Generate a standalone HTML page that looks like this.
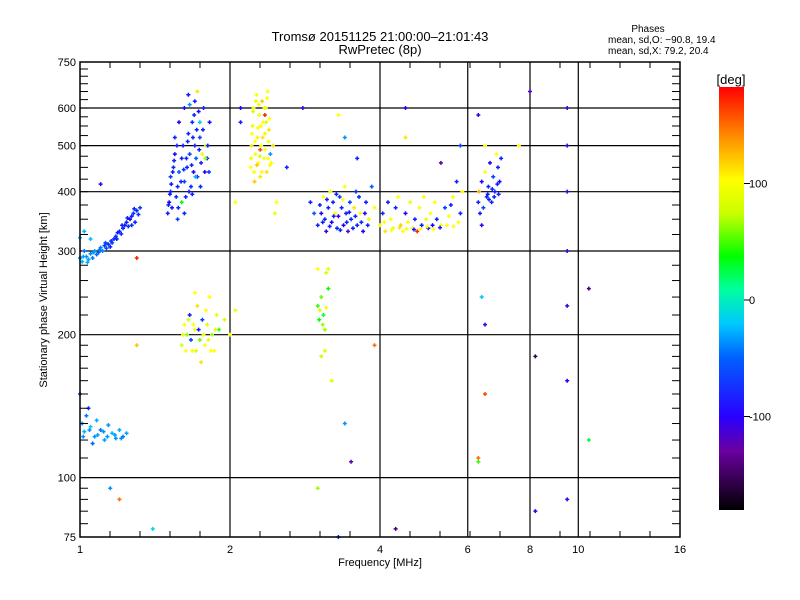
<!DOCTYPE html>
<html><head><meta charset="utf-8"><style>
body{margin:0;background:#fff;}
svg{display:block;font-family:"Liberation Sans",sans-serif;}
</style></head><body>
<svg id="chart" width="800" height="600" viewBox="0 0 800 600" xmlns="http://www.w3.org/2000/svg">
<defs>
<linearGradient id="cbar" x1="0" y1="1" x2="0" y2="0">
<stop offset="0" stop-color="#000000"/>
<stop offset="0.14" stop-color="#6a00a0"/>
<stop offset="0.22" stop-color="#2a00ff"/>
<stop offset="0.36" stop-color="#0060ff"/>
<stop offset="0.44" stop-color="#00c8ff"/>
<stop offset="0.52" stop-color="#00ffa0"/>
<stop offset="0.60" stop-color="#00ff00"/>
<stop offset="0.70" stop-color="#c8ff00"/>
<stop offset="0.78" stop-color="#ffff00"/>
<stop offset="0.88" stop-color="#ff9000"/>
<stop offset="1" stop-color="#ff0000"/>
</linearGradient>
</defs>
<g id="grid"></g>
<g id="marks"></g>
<rect x="80" y="62" width="600" height="475" fill="none" stroke="#000" stroke-width="1.5"/>
<g id="ticks"></g>
<text x="380" y="41" font-size="13" text-anchor="middle">Tromsø 20151125 21:00:00–21:01:43</text>
<text x="380" y="54" font-size="13" text-anchor="middle">RwPretec (8p)</text>
<text x="648" y="32" font-size="10" text-anchor="middle">Phases</text>
<text x="608" y="43" font-size="10">mean, sd,O: −90.8, 19.4</text>
<text x="608" y="54" font-size="10">mean, sd,X:  79.2, 20.4</text>
<text x="380" y="566" font-size="11" text-anchor="middle">Frequency [MHz]</text>
<text transform="translate(47,300) rotate(-90)" font-size="11" text-anchor="middle">Stationary phase Virtual Height [km]</text>
<rect x="719" y="87" width="25" height="423" fill="url(#cbar)"/>
<text x="731" y="84" font-size="13" text-anchor="middle">[deg]</text>
<g id="cbticks"></g>
</svg>
<script>
const xTicks=[1,2,4,6,8,10,16];
const yTicks=[75,100,200,300,400,500,600,750];
const yGrid=[100,200,300,400,500,600];
const xGrid=[2,4,6,8,10];
const cbTicks=[100,0,-100];
const clusterLowF=[[1.00,290,-60],[1.01,285,-50],[1.02,300,-70],[1.03,292,-60],[1.04,288,-55],[1.05,296,-65],[1.06,290,-70],[1.07,300,-60],[1.08,295,-75],[1.09,298,-80],[1.10,305,-70],[1.11,300,-65],[1.12,308,-90],[1.13,304,-85],[1.14,310,-95],[1.15,306,-100],[1.16,312,-90],[1.17,318,-100],[1.18,322,-95],[1.19,328,-105],[1.20,330,-100],[1.21,326,-95],[1.22,335,-100],[1.23,340,-105],[1.24,345,-100],[1.25,338,-95],[1.26,350,-110],[1.27,355,-100],[1.28,360,-95],[1.30,365,-100],[1.32,370,-90],[1.00,320,-40],[1.02,330,-50],[1.05,318,-45],[1.10,415,-120],[1.015,292,-55],[1.035,284,-50],[1.065,298,-60],[1.095,302,-70],[1.125,312,-90],[1.155,315,-95],[1.185,318,-100],[1.215,340,-100],[1.245,352,-100],[1.285,368,-100],[1.31,358,-95],[1.29,345,-100],[1.27,340,-95]];
const clusterF1=[[1.50,360,-100],[1.51,380,-110],[1.52,400,-100],[1.52,430,-90],[1.53,370,-105],[1.54,450,-100],[1.55,480,-110],[1.55,520,-100],[1.56,390,-95],[1.57,410,-100],[1.58,440,-80],[1.58,560,-110],[1.60,380,30],[1.60,470,-100],[1.61,500,-105],[1.62,420,-90],[1.62,600,-110],[1.63,390,-100],[1.64,450,-100],[1.65,530,-100],[1.65,640,-105],[1.66,480,-90],[1.67,410,-100],[1.68,560,-95],[1.69,440,-110],[1.70,500,-100],[1.70,620,-100],[1.71,470,-80],[1.72,430,-100],[1.73,590,-110],[1.74,520,-90],[1.75,460,-100],[1.76,480,90],[1.77,600,-100],[1.78,440,-110],[1.79,500,80],[1.80,470,-100],[1.82,560,-105],[1.62,360,-100],[1.57,350,-90],[1.68,395,-100],[1.72,650,110],[1.66,610,-60],[1.74,560,-40],[1.505,375,-100],[1.515,395,-100],[1.525,415,-105],[1.535,440,-100],[1.545,465,-100],[1.565,500,-100],[1.575,370,-100],[1.595,420,-100],[1.615,445,-95],[1.635,470,-100],[1.645,510,-100],[1.655,400,-105],[1.675,455,-100],[1.685,520,-100],[1.695,580,-100],[1.705,430,-50],[1.715,540,-100],[1.735,490,-100],[1.745,410,-100],[1.765,540,-100],[1.785,470,60],[1.805,500,-100],[1.815,440,-90]];
const clusterX1=[[2.20,450,100],[2.21,500,110],[2.22,550,90],[2.23,600,100],[2.24,420,120],[2.25,480,100],[2.26,640,95],[2.27,520,105],[2.28,460,100],[2.29,580,90],[2.30,430,110],[2.31,500,100],[2.32,620,120],[2.33,560,100],[2.34,470,95],[2.35,530,105],[2.36,600,100],[2.37,440,110],[2.38,650,100],[2.39,510,90],[2.40,570,100],[2.41,480,-60],[2.42,460,100],[2.44,500,110],[2.46,360,90],[2.48,380,100],[2.30,490,160],[2.35,580,170],[2.205,470,90],[2.215,530,100],[2.225,590,80],[2.235,440,100],[2.245,510,100],[2.255,620,90],[2.265,455,120],[2.275,545,100],[2.285,610,95],[2.295,475,80],[2.305,550,100],[2.315,440,100],[2.325,520,110],[2.345,600,90],[2.355,490,100],[2.365,560,80],[2.375,630,100],[2.385,470,100],[2.395,540,110],[2.405,455,100]];
const clusterF2=[[3.00,340,-100],[3.05,360,-110],[3.08,390,100],[3.10,350,-100],[3.12,330,-120],[3.15,370,-100],[3.18,400,90],[3.20,345,-110],[3.22,380,-100],[3.25,360,100],[3.28,335,-100],[3.30,355,-120],[3.32,390,-90],[3.35,370,-100],[3.38,340,-110],[3.40,410,100],[3.42,360,-100],[3.45,330,-130],[3.48,380,-90],[3.50,350,-100],[3.55,370,110],[3.58,400,-100],[3.60,340,-100],[3.65,360,100],[3.70,330,-110],[3.75,380,-100],[3.80,350,90],[3.85,410,-80],[3.90,370,100],[2.90,380,-100],[2.95,360,-80],[3.03,375,-100],[3.07,345,-100],[3.13,385,-100],[3.17,338,-100],[3.23,355,-100],[3.27,395,-100],[3.33,332,-100],[3.37,385,100],[3.43,345,-100],[3.47,362,-100],[3.53,335,-100],[3.57,355,-100],[3.63,390,-100],[3.67,345,-100],[3.73,360,-110],[3.78,340,-100]];
const clusterF3=[[4.00,340,100],[4.05,360,-100],[4.10,330,110],[4.15,380,-100],[4.20,350,100],[4.25,335,90],[4.30,370,-100],[4.35,390,100],[4.40,340,120],[4.45,330,100],[4.50,360,-110],[4.55,345,100],[4.60,380,90],[4.65,335,100],[4.70,350,-100],[4.75,330,170],[4.80,370,100],[4.85,340,-100],[4.90,390,100],[4.95,350,90],[5.00,335,-100],[5.05,360,100],[5.10,340,-110],[5.15,380,100],[5.20,350,-100],[5.30,340,100],[5.40,370,-90],[5.50,355,100],[5.60,390,100],[5.70,420,-100],[5.80,360,-100],[5.85,400,100],[4.08,345,100],[4.22,332,100],[4.38,336,110],[4.52,334,100],[4.68,333,-100],[4.82,334,100],[4.98,338,100],[5.12,333,100],[5.28,336,-100],[5.45,340,100],[5.62,338,100],[5.75,345,100],[5.55,375,-100]];
const clusterF4=[[6.30,380,-100],[6.32,400,130],[6.35,360,-100],[6.40,420,-110],[6.45,370,-90],[6.50,440,100],[6.55,390,-100],[6.60,410,-100],[6.65,460,-110],[6.70,380,-100],[6.75,430,-90],[6.80,400,-100],[6.85,480,100],[6.90,450,-100],[6.95,420,-110],[7.00,470,-100],[6.50,500,100],[6.40,340,-120],[6.58,395,-100],[6.62,385,-100],[6.72,405,-100],[6.78,390,-100],[6.88,415,-100],[6.92,395,-100]];
const clusterE1=[[1.60,190,80],[1.62,210,100],[1.64,200,60],[1.66,220,-100],[1.68,185,100],[1.70,205,90],[1.72,230,110],[1.74,195,50],[1.76,215,-90],[1.78,190,100],[1.80,210,80],[1.82,240,100],[1.84,200,60],[1.86,185,100],[1.88,220,90],[1.90,205,40],[1.95,215,80],[2.00,200,100],[2.05,225,90],[1.75,175,110],[1.70,245,100],[1.61,200,90],[1.63,185,100],[1.65,215,80],[1.67,195,-90],[1.69,210,100],[1.71,185,80],[1.73,205,-100],[1.77,200,90],[1.79,225,100],[1.81,195,90],[1.83,185,100],[1.87,205,80]];
const clusterE0=[[1.00,150,-90],[1.01,130,-60],[1.02,125,-50],[1.03,135,-70],[1.05,128,-40],[1.07,122,-60],[1.08,132,-50],[1.10,126,-70],[1.12,120,-55],[1.14,129,-60],[1.16,124,-45],[1.18,121,-60],[1.20,126,-50],[1.22,122,-70],[1.24,124,-55],[1.06,118,-80],[1.04,140,-100],[1.015,122,-60],[1.045,126,-60],[1.085,123,-55],[1.115,125,-60],[1.135,122,-60],[1.175,123,-55],[1.21,121,-60]];
const clusterE2=[[3.00,230,40],[3.02,215,30],[3.05,240,50],[3.08,220,20],[3.10,205,60],[3.12,270,80],[3.15,275,90],[3.05,180,70],[3.10,185,80],[3.00,275,100],[3.15,250,30],[3.03,225,80],[3.07,210,60],[3.12,228,90]];
const scattered=[[2.1,600,-110],[2.1,560,-100],[2.05,380,100],[2.6,450,-100],[2.8,600,-120],[3.3,580,100],[3.4,520,-60],[3.6,470,-100],[4.5,600,-110],[4.5,520,110],[5.3,460,-140],[5.8,500,-90],[6.3,580,-120],[6.4,240,-40],[6.5,210,-120],[6.5,150,160],[6.3,110,150],[6.3,108,40],[7.6,500,100],[8.0,650,-130],[8.2,180,-160],[8.2,85,-120],[9.5,600,-120],[9.5,500,-120],[9.5,400,-120],[9.5,300,-120],[9.5,230,-120],[9.5,160,-110],[9.5,90,-120],[10.5,250,-150],[10.5,120,20],[4.3,78,-150],[3.3,75,-100],[3.4,130,-60],[3.5,108,-140],[3.0,95,60],[1.2,90,150],[1.15,95,-60],[1.4,78,-30],[1.3,190,120],[1.3,290,170],[3.9,190,150],[3.2,160,80]];

const NS='http://www.w3.org/2000/svg';
const X0=80,X1=680,Y0=537,Y1=62;
function xScale(f){return X0+(X1-X0)*Math.log2(f)/4;}
function yScale(h){return Y0-(Y0-Y1)*Math.log10(h/75);}
function cbScale(p){return 300-p*1.165;}
const stops=[[-180,[0,0,0]],[-135,[100,0,190]],[-110,[30,0,255]],[-95,[0,50,255]],[-70,[0,120,255]],[-40,[0,200,255]],[0,[0,255,160]],[30,[0,255,0]],[70,[200,255,0]],[100,[255,255,0]],[140,[255,144,0]],[180,[255,0,0]]];
function colorOf(p){
  for(let i=1;i<stops.length;i++){if(p<=stops[i][0]){const a=stops[i-1],b=stops[i];const t=(p-a[0])/(b[0]-a[0]);
    const c=a[1].map((v,k)=>Math.round(v+(b[1][k]-v)*t));return 'rgb('+c.join(',')+')';}}
  return 'rgb(255,0,0)';
}
function mk(tag,attrs,parent){const e=document.createElementNS(NS,tag);for(const k in attrs)e.setAttribute(k,attrs[k]);parent.appendChild(e);return e;}
const grid=document.getElementById('grid');
xGrid.forEach(v=>{const l=mk('line',{x1:xScale(v),x2:xScale(v),y1:Y1,y2:Y0,stroke:'#000','stroke-width':1.2},grid);

});
yGrid.forEach(v=>{const l=mk('line',{x1:X0,x2:X1,y1:yScale(v),y2:yScale(v),stroke:'#000','stroke-width':1.2},grid);

});
const ticks=document.getElementById('ticks');
xTicks.forEach(v=>{const t=mk('text',{x:xScale(v),y:553,'font-size':11,'text-anchor':'middle'},ticks);t.textContent=v;

});
yTicks.forEach(v=>{const t=mk('text',{x:76,y:yScale(v)+4,'font-size':11,'text-anchor':'end'},ticks);t.textContent=v;

});
for(let x=X0+30;x<X1;x+=30){mk('line',{x1:x,x2:x,y1:Y1,y2:Y1+6,stroke:'#000'},ticks);mk('line',{x1:x,x2:x,y1:Y0,y2:Y0-6,stroke:'#000'},ticks);}
const yMinor=[];for(let h=80;h<100;h+=5)yMinor.push(h);for(let h=110;h<200;h+=10)yMinor.push(h);for(let h=220;h<300;h+=20)yMinor.push(h);for(let h=325;h<750;h+=25)yMinor.push(h);
yMinor.forEach(h=>{const y=yScale(h);mk('line',{x1:X0,x2:X0+8,y1:y,y2:y,stroke:'#000'},ticks);mk('line',{x1:X1,x2:X1-8,y1:y,y2:y,stroke:'#000'},ticks);});
const marks=document.getElementById('marks');
const all=[clusterLowF,clusterF1,clusterX1,clusterF2,clusterF3,clusterF4,clusterE1,clusterE0,clusterE2,scattered];
all.forEach(cl=>cl.forEach(d=>{
  const x=xScale(d[0]),y=yScale(d[1]),c=colorOf(d[2]);
  const p=mk('path',{d:`M${x-2} ${y}h4M${x} ${y-2}v4`,stroke:c,'stroke-width':1.5,fill:'none'},marks);
  
  
}));
const cbt=document.getElementById('cbticks');
cbTicks.forEach(v=>{const y=cbScale(v);mk('line',{x1:744,x2:750,y1:y,y2:y,stroke:'#000'},cbt);
const t=mk('text',{x:749,y:y+4,'font-size':11},cbt);t.textContent=v;

});
</script>
</body></html>
